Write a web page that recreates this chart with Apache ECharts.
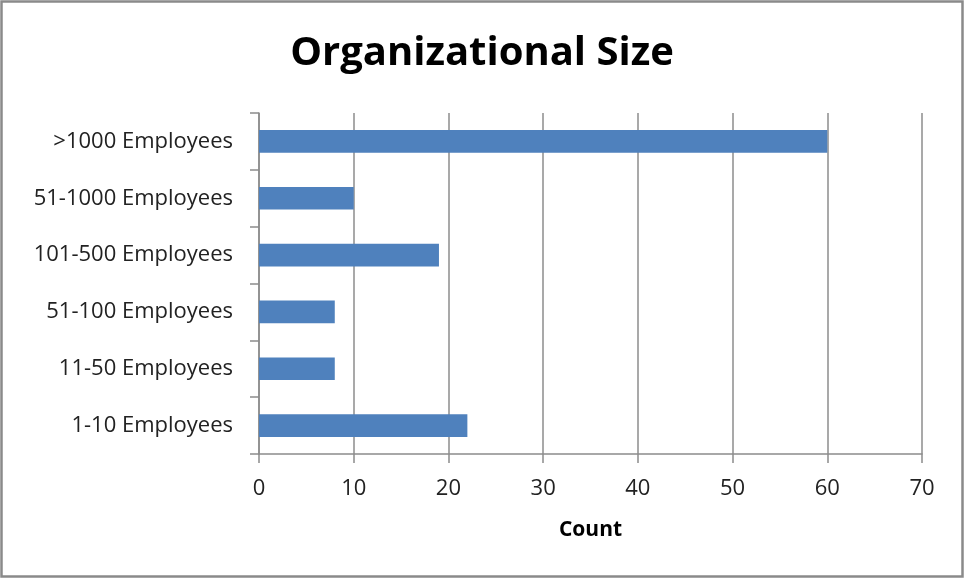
<!DOCTYPE html>
<html>
<head>
<meta charset="utf-8">
<script src="https://cdn.jsdelivr.net/npm/echarts@6/dist/echarts.min.js"></script>
<style>
  html, body { margin: 0; padding: 0; background: #fff; }
  #chart { width: 964px; height: 579px; }
</style>
</head>
<body>
<div id="chart"></div>
<script>
// Organization size buckets, listed top to bottom
const categories = [
  '>1000 Employees',
  '51-1000 Employees',
  '101-500 Employees',
  '51-100 Employees',
  '11-50 Employees',
  '1-10 Employees'
];
const counts = [60, 10, 19, 8, 8, 22];
const chartTitle = 'Organizational Size';
const xAxisTitle = 'Count';

const FONT = '"Open Sans", "Noto Sans", sans-serif';
const chart = echarts.init(document.getElementById('chart'));

chart.setOption({
  animation: false,
  backgroundColor: '#ffffff',
  title: {
    text: chartTitle,
    left: 'center',
    top: 29,
    textStyle: { fontFamily: FONT, fontSize: 40, fontWeight: 'bold', color: '#000' }
  },
  graphic: [{
    type: 'rect',
    shape: { x: 1.5, y: 1.5, width: 961, height: 575 },
    style: { fill: 'none', stroke: '#8a8a8a', lineWidth: 2.5 },
    silent: true
  }],
  grid: { left: 259, right: 42, top: 113, bottom: 125 },
  xAxis: {
    type: 'value',
    min: 0,
    max: 70,
    interval: 10,
    name: xAxisTitle,
    nameLocation: 'middle',
    nameGap: 66,
    nameTextStyle: { fontFamily: FONT, fontSize: 21, fontWeight: 'bold', color: '#000' },
    axisLine: { show: true, lineStyle: { color: '#8c8c8c', width: 1.5 } },
    axisTick: { show: true, length: 9, lineStyle: { color: '#8c8c8c', width: 1.5 } },
    axisLabel: { fontFamily: FONT, fontSize: 22, color: '#222', margin: 24 },
    splitLine: { show: true, lineStyle: { color: '#8c8c8c', width: 1.5 } }
  },
  yAxis: {
    type: 'category',
    data: categories,
    inverse: true,
    axisLine: { show: true, lineStyle: { color: '#8c8c8c', width: 1.5 } },
    axisTick: { show: true, length: 9, alignWithLabel: false, lineStyle: { color: '#8c8c8c', width: 1.5 } },
    axisLabel: { fontFamily: FONT, fontSize: 22, color: '#222', margin: 26 },
    splitLine: { show: false }
  },
  series: [{
    type: 'bar',
    data: counts,
    barWidth: '40%',
    itemStyle: { color: '#4f81bd' }
  }]
});
</script>
</body>
</html>
